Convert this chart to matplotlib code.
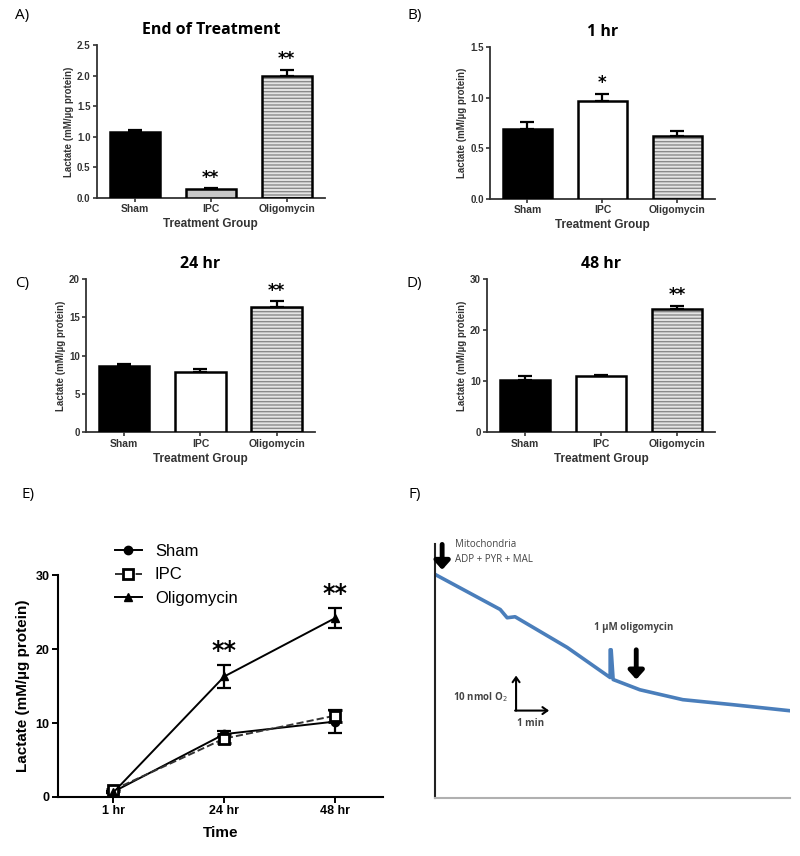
import matplotlib

matplotlib.use("Agg")

import matplotlib.pyplot as plt
from matplotlib.lines import Line2D

plt.rcParams["font.family"] = ["Liberation Sans", "DejaVu Sans"]

groups = ["Sham", "IPC", "Oligomycin"]

# bar panels: mean and upper error
end_mean = [1.08, 0.14, 2.0]
end_err = [0.03, 0.02, 0.1]
hr1_mean = [0.69, 0.97, 0.62]
hr1_err = [0.07, 0.07, 0.05]
hr24_mean = [8.7, 7.9, 16.3]
hr24_err = [0.15, 0.3, 0.8]
hr48_mean = [10.2, 11.0, 24.2]
hr48_err = [0.8, 0.3, 0.6]

# time course panel
times = ["1 hr", "24 hr", "48 hr"]
sham_tc = [0.7, 8.5, 10.2]
sham_tc_err = [0.1, 0.4, 1.5]
ipc_tc = [0.97, 7.9, 11.0]
ipc_tc_err = [0.1, 0.6, 0.8]
oligo_tc = [0.62, 16.3, 24.2]
oligo_tc_err = [0.1, 1.5, 1.3]

# oxygen trace (minutes, nmol O2)
trace_min = [0.0, 1.97, 2.18, 2.42, 4.0, 5.3, 5.3, 5.33, 5.39, 6.2, 7.5, 9.0, 10.7]
trace_o2 = [67.6, 57.0, 54.5, 54.8, 45.5, 36.4, 44.8, 44.8, 35.8, 32.7, 29.7, 28.2, 26.4]

BOLD = dict(fontweight="bold")


def bar_panel(fig, rect, means, errs, ylim, yticks, ytl, title, ipc_color, stars):
    ax = fig.add_axes(rect)
    x = range(len(groups))
    w = 0.66
    colors = ["black", ipc_color, "#dcdcdc"]
    ax.bar(x[2], means[2], w, color="#e4e4e4", edgecolor="#8a8a8a", hatch="-----", linewidth=0, zorder=2)
    ax.bar(x, means, w, color=[colors[0], colors[1], "none"], edgecolor="black", linewidth=1.8, zorder=3)
    ax.errorbar(x, means, yerr=[[0] * 3, errs], fmt="none", ecolor="black", elinewidth=1.6,
                capsize=5, capthick=1.6, zorder=1)
    for i, s in enumerate(stars):
        if s:
            ax.annotate(s, xy=(i, means[i] + errs[i]), xytext=(0, 1), textcoords="offset points",
                        ha="center", va="bottom", fontsize=12, family="DejaVu Sans", **BOLD)
    ax.set_xlim(-0.5, 2.5)
    ax.set_ylim(*ylim)
    ax.set_yticks(yticks)
    ax.set_yticklabels(ytl, fontsize=7, color="#333333", **BOLD)
    ax.set_xticks(list(x))
    ax.set_xticklabels(groups, fontsize=7.5, color="#333333", **BOLD)
    for sp in ["top", "right"]:
        ax.spines[sp].set_visible(False)
    for sp in ["left", "bottom"]:
        ax.spines[sp].set_linewidth(1.3)
        ax.spines[sp].set_color("#333333")
    ax.tick_params(width=1.2, length=3, pad=1.5, colors="#333333")
    ax.set_ylabel("Lactate (mM/µg protein)", fontsize=7, color="#333333", labelpad=2, **BOLD)
    ax.set_xlabel("Treatment Group", fontsize=8.5, color="#333333", labelpad=3, **BOLD)
    ax.set_title(title, fontsize=11.5, family="Open Sans", pad=8, **BOLD)
    return ax


fig = plt.figure(figsize=(8, 8.56), dpi=100)

bar_panel(fig, [0.121, 0.769, 0.285, 0.178], end_mean, end_err, (0, 2.5),
          [0, 0.5, 1.0, 1.5, 2.0, 2.5], ["0.0", "0.5", "1.0", "1.5", "2.0", "2.5"],
          "End of Treatment", "#c8c8c8", ["", "**", "**"])
bar_panel(fig, [0.6125, 0.768, 0.281, 0.177], hr1_mean, hr1_err, (0, 1.5),
          [0, 0.5, 1.0, 1.5], ["0.0", "0.5", "1.0", "1.5"],
          "1 hr", "white", ["", "*", ""])
bar_panel(fig, [0.1075, 0.495, 0.286, 0.179], hr24_mean, hr24_err, (0, 20),
          [0, 5, 10, 15, 20], ["0", "5", "10", "15", "20"],
          "24 hr", "white", ["", "", "**"])
bar_panel(fig, [0.609, 0.495, 0.285, 0.179], hr48_mean, hr48_err, (0, 30),
          [0, 10, 20, 30], ["0", "10", "20", "30"],
          "48 hr", "white", ["", "", "**"])

# panel E
axe = fig.add_axes([0.0725, 0.069, 0.406, 0.259])
xs = [0, 1, 2]
eb = dict(capsize=5, capthick=1.6, elinewidth=1.6, ecolor="black")
sham_style = dict(color="black", lw=1.4, marker="o", ms=6)
ipc_style = dict(color="#333333", lw=1.4, ls="--", marker="s", ms=7, mfc="white", mec="black", mew=2)
oligo_style = dict(color="black", lw=1.4, marker="^", ms=6)
axe.errorbar(xs, sham_tc, yerr=sham_tc_err, **sham_style, **eb)
axe.errorbar(xs, ipc_tc, yerr=ipc_tc_err, **ipc_style, **eb)
axe.errorbar(xs, oligo_tc, yerr=oligo_tc_err, **oligo_style, **eb)
for i in [1, 2]:
    axe.annotate("**", xy=(i, oligo_tc[i] + oligo_tc_err[i]), xytext=(0, 2), textcoords="offset points",
                 ha="center", va="bottom", fontsize=17, family="DejaVu Sans", **BOLD)
axe.set_xlim(-0.5, 2.43)
axe.set_ylim(0, 30)
axe.set_yticks([0, 10, 20, 30])
axe.set_xticks(xs)
axe.set_xticklabels(times, fontsize=9, **BOLD)
for t in axe.get_yticklabels():
    t.set_fontsize(9)
    t.set_fontweight("bold")
for sp in ["top", "right"]:
    axe.spines[sp].set_visible(False)
for sp in ["left", "bottom"]:
    axe.spines[sp].set_linewidth(1.5)
axe.tick_params(width=1.4, length=4, pad=2)
axe.set_ylabel("Lactate (mM/µg protein)", fontsize=11, labelpad=4, **BOLD)
axe.set_xlabel("Time", fontsize=11, labelpad=6, **BOLD)
handles = [Line2D([], [], **sham_style), Line2D([], [], **ipc_style), Line2D([], [], **oligo_style)]
axe.legend(handles, groups, loc="upper left", bbox_to_anchor=(0.125, 0.382), bbox_transform=fig.transFigure,
           frameon=False, fontsize=12, handlelength=1.6, handletextpad=0.8, labelspacing=0.5)

# panel F
axf = fig.add_axes([0.544, 0.068, 0.444, 0.296])
axf.plot(trace_min, trace_o2, color="#4a7ebb", lw=2.6, solid_joinstyle="round")
axf.set_xlim(0, 10.76)
axf.set_ylim(0, 76.7)
axf.set_xticks([])
axf.set_yticks([])
for sp in ["top", "right"]:
    axf.spines[sp].set_visible(False)
axf.spines["left"].set_color("#222222")
axf.spines["left"].set_linewidth(1.5)
axf.spines["bottom"].set_color("#b0b0b0")
axf.spines["bottom"].set_linewidth(1.5)
arrow = dict(arrowstyle="-|>,head_width=0.45,head_length=0.5", lw=3.5, color="black", shrinkA=0, shrinkB=0)
axf.annotate("", xy=(0.21, 69.0), xytext=(0.21, 76.7), arrowprops=arrow, annotation_clip=False)
axf.annotate("", xy=(6.09, 35.8), xytext=(6.09, 44.8), arrowprops=arrow)
txt = dict(fontsize=7, color="#444444", family="Open Sans")
axf.text(0.6, 76.7, "Mitochondria", va="center", **txt)
axf.text(0.6, 72.1, "ADP + PYR + MAL", va="center", **txt)
axf.text(4.8, 51.5, "1 µM oligomycin", va="center", fontweight="bold", **txt)
axf.text(2.2, 30.6, "10 nmol O$_2$", va="center", ha="right", fontweight="bold", **txt)
axf.text(2.9, 22.5, "1 min", va="center", ha="center", fontweight="bold", **txt)
sb = dict(arrowstyle="->,head_width=0.25,head_length=0.35", lw=1.5, color="black", shrinkA=0, shrinkB=0)
axf.annotate("", xy=(2.45, 37.0), xytext=(2.45, 26.4), arrowprops=sb)
axf.annotate("", xy=(3.45, 26.4), xytext=(2.42, 26.4), arrowprops=sb)

# panel letters
for lab, x, y in [("A)", 0.028, 0.982), ("B)", 0.518, 0.982), ("C)", 0.028, 0.669),
                  ("D)", 0.518, 0.669), ("E)", 0.035, 0.422), ("F)", 0.518, 0.422)]:
    fig.text(x, y, lab, fontsize=11, family="Open Sans", va="center", ha="center")

fig.savefig("out.png", dpi=100)
